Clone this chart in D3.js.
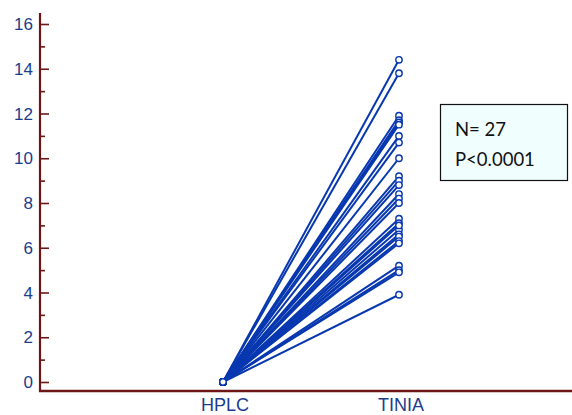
<!DOCTYPE html>
<html>
<head>
<meta charset="utf-8">
<script src="https://cdn.jsdelivr.net/npm/d3@7"></script>
<style>
  body { margin: 0; background: #fff; }
  #chart { width: 572px; height: 415px; }
</style>
</head>
<body>
<div id="chart"></div>
<script>
var categories = ['HPLC', 'TINIA'];
var hplcValues = [0, 0, 0, 0, 0, 0, 0, 0, 0, 0, 0, 0, 0, 0, 0, 0, 0, 0, 0, 0, 0, 0, 0, 0, 0, 0, 0];
var tiniaValues = [14.4, 13.8, 11.9, 11.7, 11.6, 11.5, 11.0, 10.7, 10.0, 9.2, 9.0, 8.8, 8.4, 8.2,
                   8.0, 7.3, 7.1, 6.8, 6.6, 6.5, 6.3, 6.2, 5.2, 5.0, 4.9, 3.9, 7.0];
var yTicks = [0, 2, 4, 6, 8, 10, 12, 14, 16];
var yMinorTicks = [1, 3, 5, 7, 9, 11, 13, 15];
var noteLines = ['N= 27', 'P<0.0001'];

(function() {
  var width = 572;
  var height = 415;
  var axisColor = '#6e1616';
  var lineColor = '#0838b0';
  var textColor = '#1c3c8c';

  var svg = d3.select('#chart')
    .append('svg')
    .attr('width', width)
    .attr('height', height);

  var yScale = d3.scaleLinear()
    .domain([0, 16])
    .range([382, 24]);

  var xScale = d3.scalePoint()
    .domain(categories)
    .range([223, 399]);

  var pairs = hplcValues.map(function(v, i) { return [v, tiniaValues[i]]; });

  // lines between paired values
  svg.selectAll('line.pair')
    .data(pairs)
    .enter()
    .append('line')
    .attr('class', 'pair')
    .attr('x1', xScale('HPLC'))
    .attr('y1', function(d) { return yScale(d[0]); })
    .attr('x2', xScale('TINIA'))
    .attr('y2', function(d) { return yScale(d[1]); })
    .attr('stroke', lineColor)
    .attr('stroke-width', 2);

  var points = [];
  pairs.forEach(function(d) {
    points.push([categories[0], d[0]]);
    points.push([categories[1], d[1]]);
  });

  svg.selectAll('circle')
    .data(points)
    .enter()
    .append('circle')
    .attr('cx', function(d) { return xScale(d[0]); })
    .attr('cy', function(d) { return yScale(d[1]); })
    .attr('r', 3.2)
    .attr('fill', '#fff')
    .attr('stroke', lineColor)
    .attr('stroke-width', 1.4);

  // y axis, ticks pointing inward
  var yAxis = d3.axisRight(yScale)
    .tickValues(yTicks)
    .tickSize(9)
    .tickFormat('');

  var yMinor = d3.axisRight(yScale)
    .tickValues(yMinorTicks)
    .tickSize(5)
    .tickFormat('');

  svg.append('g')
    .attr('transform', 'translate(40, 0)')
    .call(yAxis)
    .call(function(g) { g.select('.domain').remove(); })
    .selectAll('line')
    .attr('stroke', axisColor)
    .attr('stroke-width', 1.6);

  svg.append('g')
    .attr('transform', 'translate(40, 0)')
    .call(yMinor)
    .call(function(g) { g.select('.domain').remove(); })
    .selectAll('line')
    .attr('stroke', axisColor)
    .attr('stroke-width', 1.6);

  svg.selectAll('text.ylab')
    .data(yTicks)
    .enter()
    .append('text')
    .attr('class', 'ylab')
    .attr('x', 33)
    .attr('y', function(d) { return yScale(d) + 6; })
    .attr('text-anchor', 'end')
    .attr('font-family', 'Liberation Sans, Arial, sans-serif')
    .attr('font-size', 17)
    .attr('fill', textColor)
    .text(function(d) { return d; });

  svg.append('line')
    .attr('x1', 40).attr('y1', 13)
    .attr('x2', 40).attr('y2', 392)
    .attr('stroke', axisColor)
    .attr('stroke-width', 2.2);

  svg.append('line')
    .attr('x1', 39).attr('y1', 391)
    .attr('x2', width).attr('y2', 391)
    .attr('stroke', axisColor)
    .attr('stroke-width', 2.4);

  svg.selectAll('text.xlab')
    .data(categories)
    .enter()
    .append('text')
    .attr('class', 'xlab')
    .attr('x', function(d) { return xScale(d) + 2; })
    .attr('y', 411)
    .attr('text-anchor', 'middle')
    .attr('font-family', 'Liberation Sans, Arial, sans-serif')
    .attr('font-size', 18)
    .attr('fill', textColor)
    .text(function(d) { return d; });

  // annotation box
  svg.append('rect')
    .attr('x', 440.5)
    .attr('y', 104.5)
    .attr('width', 127)
    .attr('height', 76)
    .attr('fill', '#f0fefe')
    .attr('stroke', '#111')
    .attr('stroke-width', 1.2);

  svg.selectAll('text.note')
    .data(noteLines)
    .enter()
    .append('text')
    .attr('class', 'note')
    .attr('x', 455)
    .attr('y', function(d, i) { return 136 + i * 30; })
    .attr('font-family', 'Lato, Carlito, sans-serif')
    .attr('font-size', 18.5)
    .attr('fill', '#111')
    .text(function(d) { return d; });
})();
</script>
</body>
</html>
